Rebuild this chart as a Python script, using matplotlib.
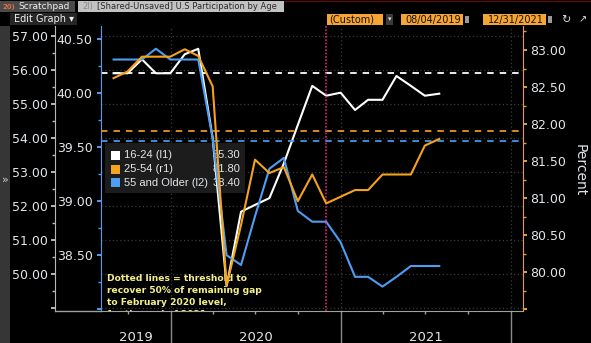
import matplotlib
matplotlib.use("Agg")
import matplotlib.pyplot as plt
import matplotlib.dates as mdates
from matplotlib.patches import Rectangle
from matplotlib.lines import Line2D
from matplotlib.ticker import MultipleLocator, FuncFormatter
import pandas as pd

# monthly readings, plotted at month end (Aug 2019 - Jul 2021)
dates = pd.date_range("2019-08-01", periods=24, freq="MS") + pd.offsets.MonthEnd(1)
age_16_24 = [55.90, 55.90, 56.31, 55.90, 55.90, 56.46, 56.62, 54.00, 49.65, 51.83,
             52.03, 52.23, 53.25, 54.38, 55.53, 55.24, 55.33, 54.82, 55.12, 55.12,
             55.82, 55.53, 55.24, 55.30]
age_25_54 = [82.62, 82.71, 82.91, 82.91, 82.91, 83.01, 82.92, 82.51, 79.82, 80.64,
             81.52, 81.34, 81.42, 80.96, 81.32, 80.93, 81.02, 81.11, 81.11, 81.32,
             81.32, 81.32, 81.71, 81.80]
age_55_up = [40.31, 40.31, 40.31, 40.41, 40.31, 40.31, 40.31, 39.58, 38.50, 38.41,
             38.86, 39.30, 39.40, 38.91, 38.81, 38.81, 38.62, 38.30, 38.30, 38.21,
             38.30, 38.40, 38.40, 38.40]

# 50% recovery thresholds
thr_16_24 = 55.92
thr_25_54 = 81.91
thr_55_up = 39.56

marker_date = pd.Timestamp("2020-11-30")
x_start, x_end = pd.Timestamp("2019-08-04"), pd.Timestamp("2022-01-27")
years = [2019, 2020, 2021]

W, H = 591, 343
WHITE = "#ffffff"
ORANGE = "#f5a31c"
BLUE = "#4d9ef2"
TXT = "#e2e6ea"
GRID = "#3a3a3a"


def fx(p):
    return p / W


def fy(p):
    return 1 - p / H


def labels_from(lowest):
    # bloomberg leaves the tick at the very bottom unlabelled
    return FuncFormatter(lambda v, pos: f"{v:.2f}" if v >= lowest - 1e-6 else "")


fig = plt.figure(figsize=(W / 100, H / 100), dpi=100, facecolor="black")
ax = fig.add_axes([fx(101), fy(311), fx(523) - fx(101), fy(26) - fy(311)])
ax.set_facecolor("black")
ax2 = ax.twinx()
ax3 = ax.twinx()

# series
ax.plot(dates, age_16_24, color=WHITE, lw=1.5, zorder=3)
ax2.plot(dates, age_55_up, color=BLUE, lw=1.5, zorder=3)
ax3.plot(dates, age_25_54, color=ORANGE, lw=1.5, zorder=3)

dash = (0, (3.6, 3.3))
ax.axhline(thr_16_24, color=WHITE, lw=1.3, ls=dash, zorder=2)
ax2.axhline(thr_55_up, color="#3f9be6", lw=1.3, ls=dash, zorder=2)
ax3.axhline(thr_25_54, color="#e8961a", lw=1.3, ls=dash, zorder=2)
ax3.axvline(marker_date, color="#e0207f", lw=1.2, ls=(0, (1, 1)), zorder=2)

# limits
ax.set_xlim(x_start, x_end)
ax.set_ylim(48.91, 57.29)
ax2.set_ylim(37.984, 40.62)
ax3.set_ylim(79.478, 83.324)

for a in (ax, ax2, ax3):
    for s in a.spines.values():
        s.set_visible(False)

# left outer axis (l1)
ax.spines["left"].set_visible(True)
ax.spines["left"].set_position(("outward", 46 * 0.72))
ax.spines["left"].set_color("#b8b8b8")
ax.yaxis.set_major_locator(MultipleLocator(1))
ax.yaxis.set_minor_locator(MultipleLocator(0.5))
ax.yaxis.set_major_formatter(labels_from(50))
ax.tick_params(axis="y", which="major", length=3, width=1.4, pad=2,
               labelsize=9, colors="#b8b8b8", labelcolor=TXT)
ax.tick_params(axis="y", which="minor", length=2, width=1, colors="#b8b8b8")

# inner left axis (l2)
ax2.yaxis.set_ticks_position("left")
ax2.yaxis.set_label_position("left")
ax2.spines["left"].set_visible(True)
ax2.spines["left"].set_color(BLUE)
ax2.yaxis.set_major_locator(MultipleLocator(0.5))
ax2.yaxis.set_minor_locator(MultipleLocator(0.25))
ax2.yaxis.set_major_formatter(labels_from(38.5))
ax2.tick_params(axis="y", which="major", length=3, width=1.4, pad=3,
                labelsize=9, colors=BLUE, labelcolor=TXT)
ax2.tick_params(axis="y", which="minor", length=2, width=1, colors=BLUE)

# right axis (r1)
ax3.spines["right"].set_visible(True)
ax3.spines["right"].set_color("#e5a030")
ax3.yaxis.set_major_locator(MultipleLocator(0.5))
ax3.yaxis.set_minor_locator(MultipleLocator(0.25))
ax3.yaxis.set_major_formatter(labels_from(80))
ax3.tick_params(axis="y", which="major", length=3, width=1.4, pad=2,
                labelsize=9, colors="#e5a030", labelcolor=TXT)
ax3.tick_params(axis="y", which="minor", length=2, width=1, colors="#e5a030")
fig.text(fx(580), fy(170), "Percent", rotation=270, color=TXT, fontsize=10,
         ha="center", va="center")

# time axis
ax.spines["bottom"].set_visible(True)
ax.spines["bottom"].set_color("#a0a0a0")
ax.xaxis.set_major_locator(mdates.YearLocator())
ax.xaxis.set_minor_locator(mdates.MonthLocator(bymonth=[4, 7, 10]))
ax.xaxis.set_major_formatter(plt.NullFormatter())
ax.tick_params(axis="x", which="major", length=24, width=1, colors="#8a8a8a")
ax.tick_params(axis="x", which="minor", length=2, width=1, colors="#a0a0a0")
fig.add_artist(Line2D([fx(55), fx(101)], [fy(311), fy(311)], color="#a0a0a0", lw=1))

for yr in years:
    lo = max(pd.Timestamp(f"{yr}-01-01"), x_start)
    hi = min(pd.Timestamp(f"{yr + 1}-01-01"), x_end)
    mid = lo + (hi - lo) / 2
    ax.text(mid, -(341 - 311) / 285, str(yr), transform=ax.get_xaxis_transform(),
            ha="center", va="baseline", fontsize=9.5, color=TXT, clip_on=False)

# grid
ax.grid(True, which="major", color=GRID, ls=(0, (1, 2)), lw=0.9)
ax.set_axisbelow(True)

# legend box
ax.add_artist(Rectangle((fx(105), fy(193)), fx(245) - fx(105), fy(143) - fy(193),
                        transform=fig.transFigure, facecolor="#1c1c1c",
                        edgecolor="none", zorder=1.5))
legend_rows = [("16-24 (l1)", age_16_24[-1], WHITE),
               ("25-54 (r1)", age_25_54[-1], ORANGE),
               ("55 and Older (l2)", age_55_up[-1], BLUE)]
for i, (lab, val, col) in enumerate(legend_rows):
    yc = 155.5 + i * 13.5
    ax.add_artist(Rectangle((fx(111), fy(yc + 4.5)), fx(9), 9 / H,
                            transform=fig.transFigure, facecolor=col,
                            edgecolor="none", zorder=1.6))
    ax.text(fx(124), fy(yc), lab, transform=fig.transFigure, color=TXT,
            fontsize=8, family="Liberation Sans", va="center", ha="left", zorder=1.6)
    ax.text(fx(240), fy(yc), f"{val:.2f}", transform=fig.transFigure, color=TXT,
            fontsize=8, family="Liberation Sans", va="center", ha="right", zorder=1.6)

# note (last line runs under the axis and gets clipped, as in the terminal)
note = ["Dotted lines = threshold to", "recover 50% of remaining gap",
        "to February 2020 level,", "for the end of 2021"]
for i, line in enumerate(note):
    ax.text(fx(107), fy(281 + i * 12.0), line, transform=fig.transFigure,
            color="#f3f08a", fontsize=6.6, fontweight="bold", va="baseline",
            ha="left", zorder=1.7, clip_on=True)

# left strip
fig.add_artist(Rectangle((0, 0), fx(10), fy(26), transform=fig.transFigure,
                         facecolor="#363636", edgecolor="none"))
fig.text(fx(5), fy(180), "»", color="#cfcfcf", fontsize=8, ha="center", va="center")

# top tabs
fig.add_artist(Rectangle((0, fy(12)), fx(75), 11 / H, transform=fig.transFigure,
                         facecolor="#4a4a4a", edgecolor="none"))
fig.text(fx(3), fy(6.5), "20)", color="#e07040", fontsize=5, fontweight="bold",
         va="center")
fig.text(fx(18), fy(6.5), "Scratchpad", color="#f0f0f0", fontsize=6.5, va="center")
fig.add_artist(Rectangle((fx(78), fy(12)), fx(206), 11 / H, transform=fig.transFigure,
                         facecolor="#c2c2c2", edgecolor="none"))
fig.text(fx(82), fy(6.5), "2l)", color="#8a8a8a", fontsize=6.0, va="center")
fig.text(fx(97), fy(6.5), "[Shared-Unsaved] U.S Participation by Age", color="#2a2a2a",
         fontsize=6.0, va="center")
fig.add_artist(Line2D([fx(285), 1], [fy(0.5), fy(0.5)], color="#5a0e0e", lw=1))

# toolbar
fig.add_artist(Rectangle((fx(10), fy(25)), fx(67), 12 / H, transform=fig.transFigure,
                         facecolor="#262626", edgecolor="none"))
fig.text(fx(14), fy(19), "Edit Graph \u25be", color="#f0f0f0", fontsize=7, va="center")
for x0, x1, s in [(327, 383, "(Custom)"), (401, 463, "08/04/2019"),
                  (483, 546, "12/31/2021")]:
    fig.add_artist(Rectangle((fx(x0), fy(25)), fx(x1 - x0), 11 / H,
                             transform=fig.transFigure, facecolor="#f6a432",
                             edgecolor="none"))
    if s == "(Custom)":
        fig.text(fx(x0 + 2), fy(19.5), s, color="#111111", fontsize=7, va="center")
    else:
        fig.text(fx(x1 - 2), fy(19.5), s, color="#111111", fontsize=7, va="center",
                 ha="right")
fig.add_artist(Rectangle((fx(386), fy(25)), fx(7), 11 / H, transform=fig.transFigure,
                         facecolor="#3a3a3a", edgecolor="none"))
fig.text(fx(389.5), fy(19.5), "\u25be", color="#dddddd", fontsize=5, ha="center",
         va="center")
for xc in (467, 550):
    fig.add_artist(Rectangle((fx(xc - 2), fy(23)), fx(4), 7 / H,
                             transform=fig.transFigure, facecolor="#9a9a9a",
                             edgecolor="none"))
fig.text(fx(566), fy(19.5), "\u21bb", color="#e0e0e0", fontsize=8, ha="center",
         va="center")
fig.text(fx(583), fy(19.5), "\u2197", color="#e0e0e0", fontsize=7, ha="center",
         va="center")

fig.savefig("out.png", dpi=100, facecolor="black")
